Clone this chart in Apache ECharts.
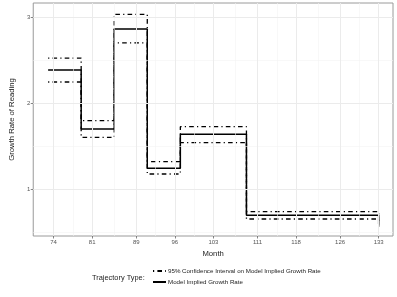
<!DOCTYPE html>
<html>
<head>
<meta charset="utf-8">
<script src="https://cdn.jsdelivr.net/npm/echarts@6/dist/echarts.min.js"></script>
<style>html,body{margin:0;padding:0;background:#fff}#c{width:397px;height:297px}</style>
</head>
<body>
<div id="c"></div>
<script>
// Data (months where each step begins, and growth rates)
const months = [73, 79, 85, 91, 97, 109, 133];
const modelRate = [2.384, 1.698, 2.86, 1.24, 1.636, 0.694, 0.59];
const ciUpper = [2.523, 1.794, 3.03, 1.317, 1.725, 0.736, 0.66];
const ciLower = [2.244, 1.60, 2.70, 1.174, 1.538, 0.651, 0.56];
const xTicks = [74, 81, 89, 96, 103, 111, 118, 126, 133];
const xMinor = [77.5, 85, 92.5, 99.5, 107, 114.5, 122, 129.5];
const yTicks = [1, 2, 3];
const yMinor = [0.5, 1.5, 2.5];

const CI_NAME = '95% Confidence Interval on Model Implied Growth Rate';
const MODEL_NAME = 'Model Implied Growth Rate';
const FONT = '"Liberation Sans", Arial, sans-serif';

const pair = (xs, ys) => xs.map((x, i) => [x, ys[i]]);

const minorStyle = {color: '#f3f3f3', width: 0.6, type: 'solid'};
const majorStyle = {color: '#ebebeb', width: 1, type: 'solid'};
const gridLines = []
  .concat(xMinor.map(v => ({xAxis: v, lineStyle: minorStyle})))
  .concat(yMinor.map(v => ({yAxis: v, lineStyle: minorStyle})))
  .concat(xTicks.map(v => ({xAxis: v, lineStyle: majorStyle})))
  .concat(yTicks.map(v => ({yAxis: v, lineStyle: majorStyle})));

const dashDot = [1.2, 3.2, 4.6, 3.2];

const chart = echarts.init(document.getElementById('c'), null, {renderer: 'canvas'});
chart.setOption({
  animation: false,
  backgroundColor: '#fff',
  textStyle: {fontFamily: FONT},
  title: {
    text: 'Trajectory Type:',
    left: 92, top: 274, padding: 0,
    textStyle: {fontSize: 7.4, fontWeight: 'normal', color: '#222', fontFamily: FONT}
  },
  legend: {
    data: [
      {name: CI_NAME, itemStyle: {opacity: 0}},
      {name: MODEL_NAME, itemStyle: {opacity: 0}}
    ],
    orient: 'vertical',
    left: 152, top: 268, padding: 0,
    itemWidth: 13, itemHeight: 6, itemGap: 5,
    textStyle: {fontSize: 6.2, color: '#222', fontFamily: FONT, padding: [0, 0, 0, -3]},
    selectedMode: false
  },
  grid: {
    left: 20, right: 4, top: 3, bottom: 61,
    show: true, borderColor: '#9a9a9a', borderWidth: 1, backgroundColor: '#fff'
  },
  xAxis: {
    type: 'value', min: 70.3, max: 135.6,
    name: 'Month', nameLocation: 'middle', nameGap: 8,
    nameTextStyle: {fontSize: 7.7, color: '#222', fontFamily: FONT},
    axisLine: {show: false},
    splitLine: {show: false},
    axisTick: {show: true, length: 2.5, lineStyle: {color: '#666', width: 0.8}, customValues: xTicks},
    axisLabel: {fontSize: 6, color: '#555', margin: 3, customValues: xTicks, fontFamily: FONT}
  },
  yAxis: {
    type: 'value', min: 0.453, max: 3.163,
    name: 'Growth Rate of Reading', nameLocation: 'middle', nameGap: 15,
    nameTextStyle: {fontSize: 7.7, color: '#222', fontFamily: FONT},
    axisLine: {show: false},
    splitLine: {show: false},
    axisTick: {show: true, length: 2.5, lineStyle: {color: '#666', width: 0.8}, customValues: yTicks},
    axisLabel: {fontSize: 6, color: '#555', margin: 3, customValues: yTicks, fontFamily: FONT}
  },
  series: [
    {
      type: 'line', name: 'grid', data: [[months[0], modelRate[0]]], z: 0,
      showSymbol: false, symbol: 'none', lineStyle: {opacity: 0}, silent: true,
      markLine: {silent: true, symbol: ['none', 'none'], label: {show: false}, animation: false, data: gridLines}
    },
    {
      type: 'line', name: CI_NAME, step: 'end', data: pair(months, ciUpper), z: 3,
      symbol: 'none', showSymbol: false, color: '#000',
      lineStyle: {color: '#000', width: 1.3, type: dashDot}
    },
    {
      type: 'line', name: CI_NAME, step: 'end', data: pair(months, ciLower), z: 3,
      symbol: 'none', showSymbol: false, color: '#000',
      lineStyle: {color: '#000', width: 1.3, type: dashDot}
    },
    {
      type: 'line', name: MODEL_NAME, step: 'end', data: pair(months, modelRate), z: 4,
      symbol: 'none', showSymbol: false, color: '#000',
      lineStyle: {color: '#000', width: 1.5, type: 'solid'}
    }
  ]
});
</script>
</body>
</html>
